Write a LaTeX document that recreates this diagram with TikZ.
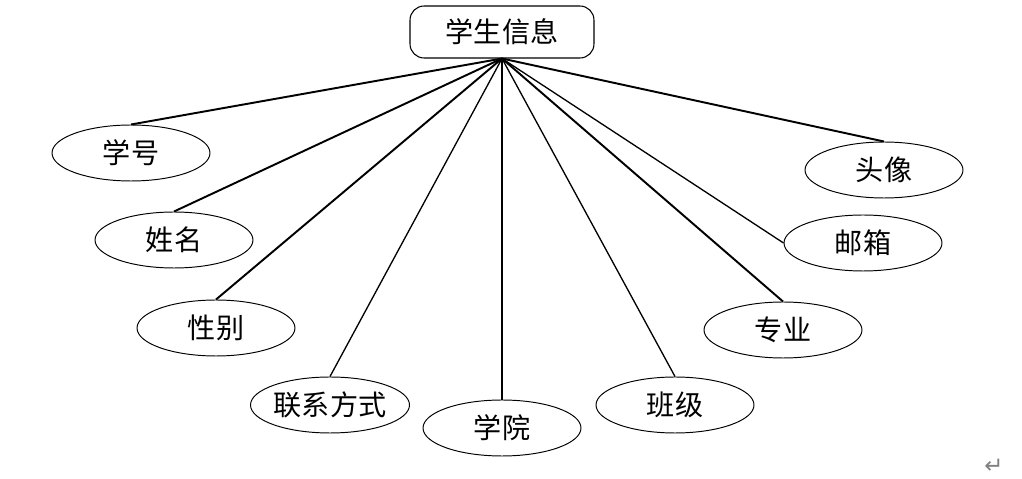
\documentclass[tikz,border=0pt]{standalone}
\usepackage{fontspec}
\newfontfamily\cjk{Noto Sans CJK SC}
\newfontfamily\symfont{DejaVu Sans}
\usetikzlibrary{shapes.geometric}

\tikzset{
  entity/.style={draw, rounded corners=8pt, minimum width=3.68cm, minimum height=1.04cm, line width=0.6pt},
  attr/.style={draw, ellipse, minimum width=3.16cm, minimum height=1.12cm, inner sep=0pt, line width=0.55pt},
  thick link/.style={line width=1.1pt},
  thin link/.style={line width=0.75pt}
}

\begin{document}
\begin{tikzpicture}[x=0.02cm, y=-0.02cm, font=\cjk\fontsize{16}{19}\selectfont]
  \useasboundingbox (0,0) rectangle (1022,479);
  % --- the entity ---
  \node[entity] (info) at (502,32) {学生信息};
  % --- the attributes, left to right ---
  \node[attr] (xh)   at (131,153) {学号};
  \node[attr] (xm)   at (174,240) {姓名};
  \node[attr] (xb)   at (216,328) {性别};
  \node[attr] (lx)   at (330,405) {联系方式};
  \node[attr] (xy)   at (502,428) {学院};
  \node[attr] (bj)   at (675,405) {班级};
  \node[attr] (zy)   at (783,330) {专业};
  \node[attr] (yx)   at (863,243) {邮箱};
  \node[attr] (tx)   at (884,170) {头像};
  % --- links ---
  \draw[thick link] (info.south) -- (xh.north);
  \draw[thick link] (info.south) -- (xm.north);
  \draw[thick link] (info.south) -- (xb.north);
  \draw[thin link]  (info.south) -- (lx.north);
  \draw[thin link]  (info.south) -- (xy.north);
  \draw[thin link]  (info.south) -- (bj.north);
  \draw[thick link] (info.south) -- (zy.north);
  \draw[thin link]  (info.south) -- (yx.west);
  \draw[thick link] (info.south) -- (tx.north);
  % --- paragraph mark ---
  \node[font=\symfont\fontsize{13}{15}\selectfont, text=gray, inner sep=1pt] (ret) at (994,466) {↵};
\end{tikzpicture}
\end{document}
